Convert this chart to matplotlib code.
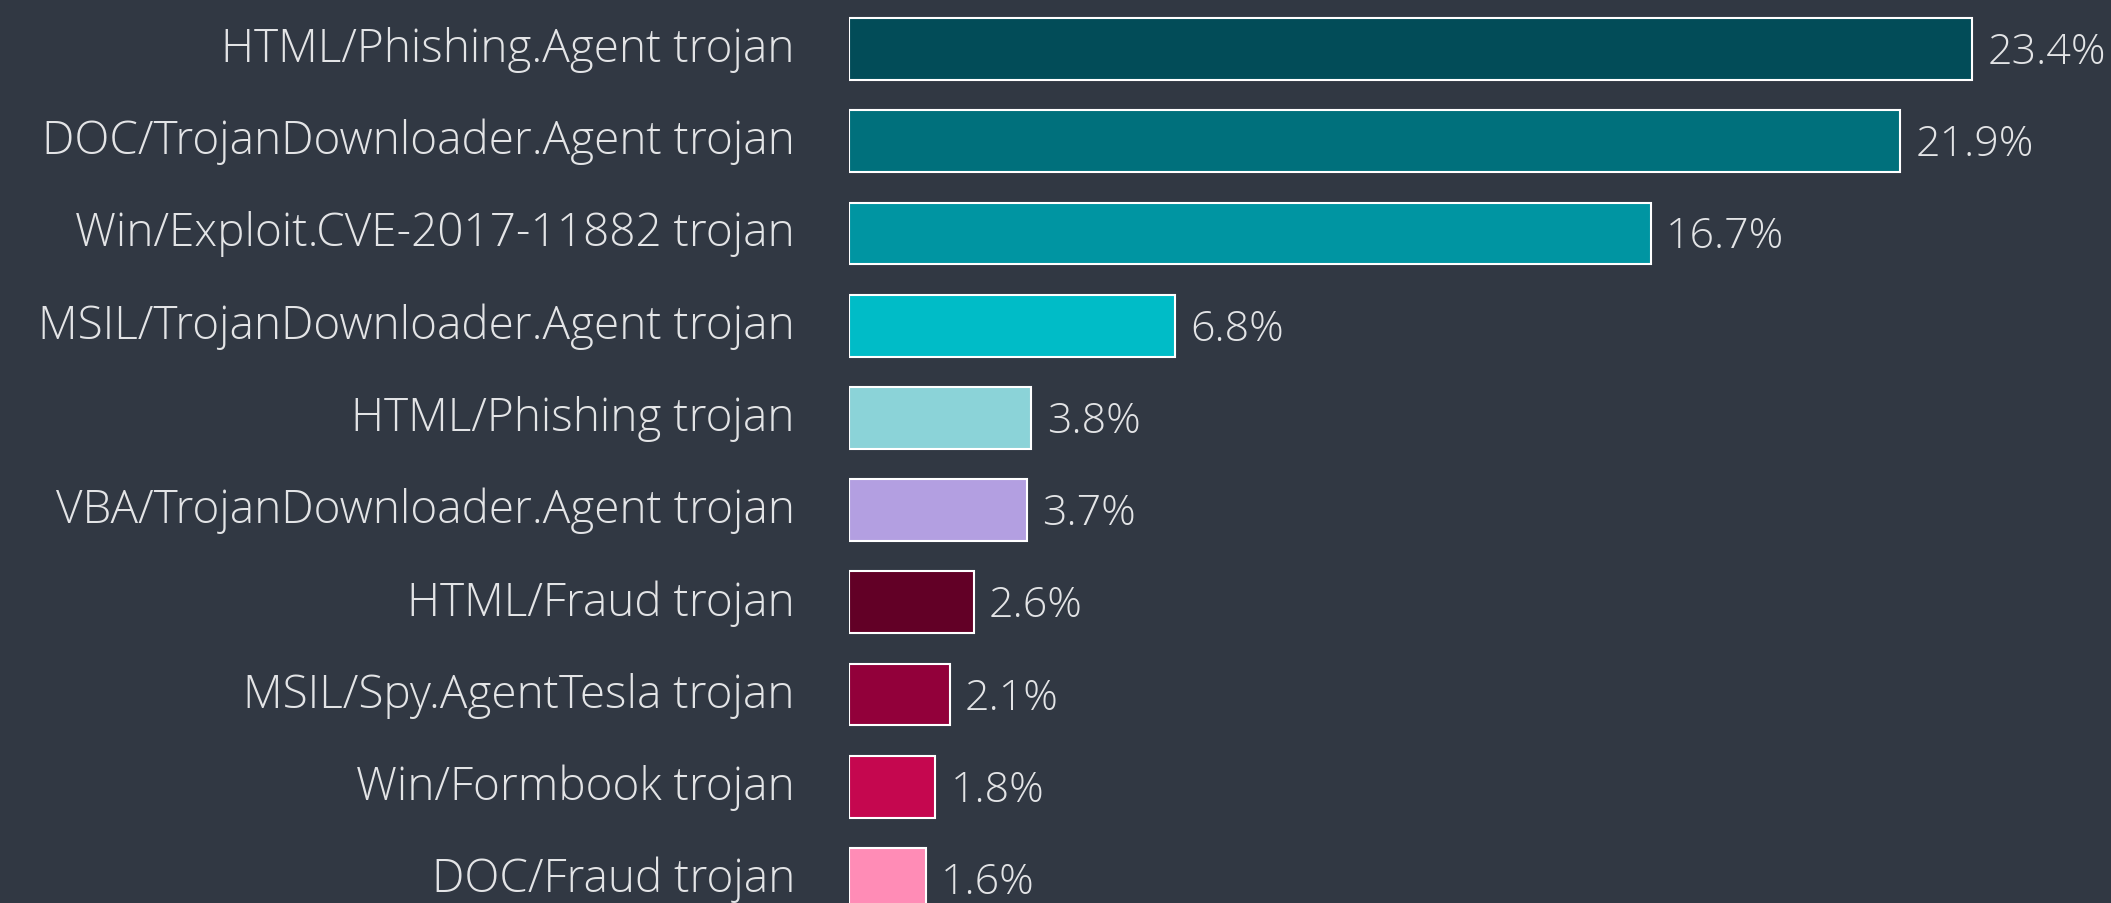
import matplotlib
matplotlib.use("Agg")
import matplotlib.pyplot as plt

plt.rcParams['font.family'] = ['Open Sans', 'DejaVu Sans']

# data
categories = [
    "HTML/Phishing.Agent trojan",
    "DOC/TrojanDownloader.Agent trojan",
    "Win/Exploit.CVE-2017-11882 trojan",
    "MSIL/TrojanDownloader.Agent trojan",
    "HTML/Phishing trojan",
    "VBA/TrojanDownloader.Agent trojan",
    "HTML/Fraud trojan",
    "MSIL/Spy.AgentTesla trojan",
    "Win/Formbook trojan",
    "DOC/Fraud trojan",
]
shares = [23.4, 21.9, 16.7, 6.8, 3.8, 3.7, 2.6, 2.1, 1.8, 1.6]
value_labels = ["23.4%", "21.9%", "16.7%", "6.8%", "3.8%", "3.7%", "2.6%", "2.1%", "1.8%", "1.6%"]
bar_colors = ["#024c58", "#00707c", "#0095a2", "#00bcc7", "#8bd3d8",
              "#b39fe1", "#620026", "#92003a", "#c5074f", "#ff8cb6"]

BG = "#313843"
TXT = "#e3e4e6"

fig = plt.figure(figsize=(21.11, 9.04), dpi=100)
fig.patch.set_facecolor(BG)
ax = fig.add_axes([849 / 2111, 0, 1248 / 2111, 1])
ax.set_facecolor(BG)

pos = list(range(len(categories)))
ax.barh(pos, shares, height=0.67, color=bar_colors, edgecolor="white", linewidth=1.5)

ax.set_xlim(0, 26)
ax.set_ylim(9.26, -0.542)

for p, v, lab in zip(pos, shares, value_labels):
    ax.annotate(lab, (v, p), xytext=(11, -2), textcoords="offset points",
                va="center", ha="left", color=TXT, fontsize=31, fontweight="light",
                clip_on=False)

for p, c in zip(pos, categories):
    ax.annotate(c, (0, p), xytext=(-39, 0), textcoords="offset points",
                va="center", ha="right", color=TXT, fontsize=33, fontweight="light",
                clip_on=False)

ax.set_xticks([])
ax.set_yticks([])
for s in ax.spines.values():
    s.set_visible(False)

fig.savefig("out.png", dpi=100, facecolor=BG)
